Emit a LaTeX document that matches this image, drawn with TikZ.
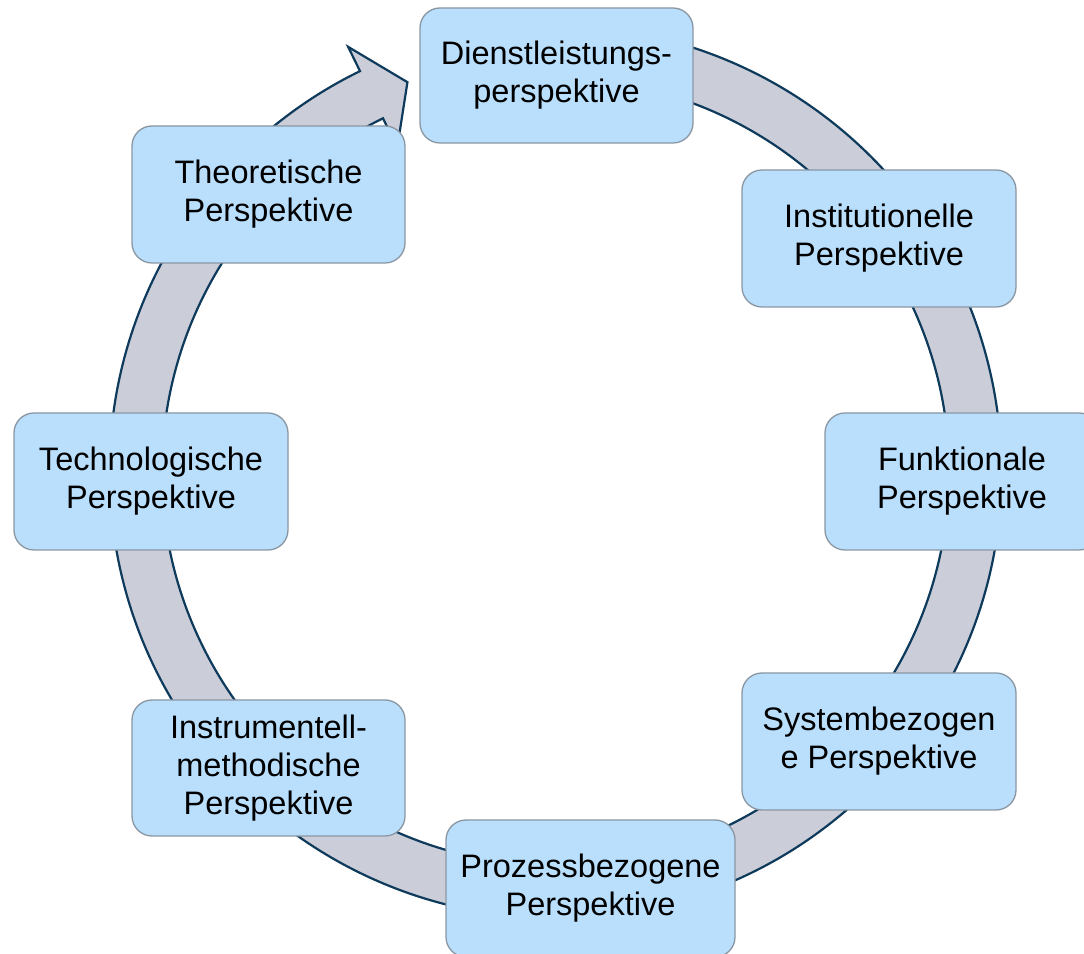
\documentclass[tikz,border=0pt]{standalone}
\usepackage{fontspec}
\setmainfont{Liberation Sans}
\usetikzlibrary{calc}
\definecolor{boxfill}{HTML}{B9DFFD}
\definecolor{boxline}{HTML}{8A97A3}
\definecolor{bandfill}{HTML}{CBCDD8}
\definecolor{bandline}{HTML}{0E3A5C}
\tikzset{
  persp/.style={draw=boxline, fill=boxfill, line width=1.3pt, rounded corners=20pt,
    minimum height=137pt, inner sep=0pt, align=center,
    font=\fontsize{32.5}{38}\selectfont},
  band/.style={fill=bandfill, draw=bandline, line width=2.2pt, line join=miter}
}
\begin{document}
\begin{tikzpicture}[x=1pt,y=1pt]
\clip (0,0) rectangle (1084,953);
\fill[white] (0,0) rectangle (1084,953);
\coordinate (C) at (555.5,481);
% circular arrow band
\path[band] ($(C)+(100:446)$) arc[start angle=100, end angle=-244, radius=446]
  -- ($(C)+(-244:473)$) -- ($(C)+(-249.2:417)$) -- ($(C)+(-244:361)$)
  -- ($(C)+(-244:393.5)$) arc[start angle=-244, end angle=100, radius=393.5] -- cycle;
% boxes
\node[persp, minimum width=273pt, minimum height=135pt] (dienst) at (556.5,877.5) {Dienstleistungs-\\perspektive};
\node[persp, minimum width=274pt] (inst) at (879,714.5) {Institutionelle\\Perspektive};
\node[persp, minimum width=274pt] (funk) at (962,471.5) {Funktionale\\Perspektive};
\node[persp, minimum width=274pt] (sys) at (879,211.5) {Systembezogen\\e Perspektive};
\node[persp, minimum width=289pt] (proz) at (590.5,64.5) {Prozessbezogene\\Perspektive};
\node[persp, minimum width=273pt, minimum height=136pt] (instr) at (268.5,185) {Instrumentell-\\methodische\\Perspektive};
\node[persp, minimum width=274pt] (tech) at (151,471.5) {Technologische\\Perspektive};
\node[persp, minimum width=273pt] (theo) at (268.5,758.5) {Theoretische\\Perspektive};
\end{tikzpicture}
\end{document}
